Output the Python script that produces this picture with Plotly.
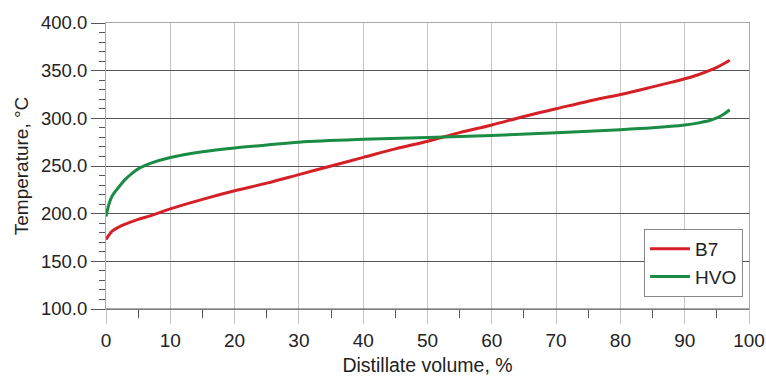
import plotly.graph_objects as go

b7_x = [0, 0.5, 1, 2, 3, 5, 7, 10, 15, 20, 25, 30, 35, 40, 45, 50, 55, 60, 65, 70, 75, 80, 85, 88, 90, 92, 94, 95, 96, 97]
b7_y = [173, 178, 182, 186, 189, 194, 198, 205, 215, 224, 232, 241, 250, 259, 268, 276, 285, 293, 302, 310, 318, 325, 333, 338, 341.5, 345.5, 350.5, 353.5, 357, 361]

hvo_x = [0, 0.5, 1, 2, 3, 4, 5, 7, 10, 15, 20, 25, 30, 40, 50, 60, 70, 80, 85, 90, 92, 94, 95, 96, 97]
hvo_y = [197, 211, 219, 228, 236, 242, 247, 253, 259, 265, 269, 272, 275, 278, 280, 282, 285, 288, 290, 293, 295, 298, 300.5, 304, 309]

FONT = "Liberation Sans, Arial, sans-serif"

fig = go.Figure()
fig.add_trace(go.Scatter(x=b7_x, y=b7_y, mode="lines", name="B7",
                         line=dict(color="#d42026", width=3, shape="spline", smoothing=1.0)))
fig.add_trace(go.Scatter(x=hvo_x, y=hvo_y, mode="lines", name="HVO",
                         line=dict(color="#1b8c43", width=3, shape="spline", smoothing=1.0)))

fig.update_layout(
    width=766, height=376,
    margin=dict(l=106, r=17, t=23, b=67, autoexpand=False),
    paper_bgcolor="white", plot_bgcolor="white",
    font=dict(family=FONT, size=17, color="#222"),
    showlegend=True,
    legend=dict(x=0.9907, y=0.28, xanchor="right", yanchor="top",
                bordercolor="#888", borderwidth=1, bgcolor="white",
                font=dict(size=19), itemwidth=40, tracegroupgap=2),
    xaxis=dict(range=[0, 100], dtick=10, tick0=0, automargin=False,
               showgrid=True, gridcolor="#c4c4c4", gridwidth=1,
               showline=True, linecolor="#a8a8a8", linewidth=1, mirror=True,
               ticks="outside", ticklen=14, tickcolor="#c4c4c4",
               minor=dict(ticks="outside", ticklen=8, dtick=5, tickcolor="#555", showgrid=False),
               zeroline=False, tickfont=dict(family=FONT, size=19),
               title=dict(text="Distillate volume, %", font=dict(size=19.5), standoff=13)),
    yaxis=dict(range=[100, 400], dtick=50, tick0=100, tickformat=".1f", automargin=False,
               showgrid=True, gridcolor="#555", gridwidth=1,
               showline=True, linecolor="#a8a8a8", linewidth=1, mirror=True,
               ticks="outside", ticklen=14, tickcolor="#555",
               minor=dict(ticks="outside", ticklen=6, dtick=10, tickcolor="#555", showgrid=False),
               zeroline=False, tickfont=dict(family=FONT, size=18.5),
               title=dict(text="Temperature, °C", font=dict(size=19), standoff=7)),
)

fig.add_shape(type="line", xref="paper", yref="paper", x0=0, x1=1, y0=0, y1=0,
              line=dict(color="#555", width=1))

fig.write_html("out.html")
